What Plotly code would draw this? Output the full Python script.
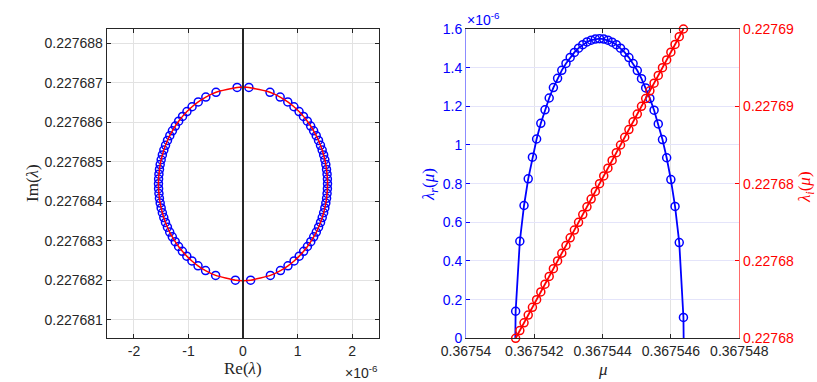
import plotly.graph_objects as go

# ---------------- data ----------------
mu = [0.3675414530, 0.3675415758, 0.3675416986, 0.3675418214, 0.3675419442,
      0.3675420670, 0.3675421898, 0.3675423126, 0.3675424354, 0.3675425582,
      0.3675426810, 0.3675428038, 0.3675429266, 0.3675430494, 0.3675431722,
      0.3675432950, 0.3675434178, 0.3675435406, 0.3675436634, 0.3675437862,
      0.3675439090, 0.3675440318, 0.3675441546, 0.3675442774, 0.3675444002,
      0.3675445230, 0.3675446458, 0.3675447686, 0.3675448914, 0.3675450142,
      0.3675451370, 0.3675452598, 0.3675453826, 0.3675455054, 0.3675456282,
      0.3675457510, 0.3675458738, 0.3675459966, 0.3675461194, 0.3675462422,
      0.3675463650]

# real part (units of 1e-6)
lam_r = [0.140, 0.502, 0.687, 0.825, 0.937, 1.031, 1.112, 1.182, 1.243, 1.297,
         1.345, 1.386, 1.422, 1.453, 1.479, 1.501, 1.519, 1.533, 1.542, 1.548,
         1.550, 1.548, 1.542, 1.532, 1.519, 1.501, 1.479, 1.452, 1.421, 1.385,
         1.343, 1.295, 1.241, 1.180, 1.109, 1.028, 0.934, 0.821, 0.682, 0.495,
         0.108]

lam_i = [0.227682000, 0.227682122, 0.227682244, 0.227682366, 0.227682488,
         0.227682610, 0.227682732, 0.227682854, 0.227682976, 0.227683098,
         0.227683220, 0.227683342, 0.227683464, 0.227683586, 0.227683708,
         0.227683830, 0.227683952, 0.227684074, 0.227684196, 0.227684318,
         0.227684440, 0.227684562, 0.227684684, 0.227684806, 0.227684928,
         0.227685050, 0.227685172, 0.227685294, 0.227685416, 0.227685538,
         0.227685660, 0.227685782, 0.227685904, 0.227686026, 0.227686148,
         0.227686270, 0.227686392, 0.227686514, 0.227686636, 0.227686758,
         0.227686880]

# collision points where the real part vanishes
mu_ends = [0.3675414430, 0.3675463710]
lam_i_ends = [0.227681990, 0.227686890]

# ticks
left_x_ticks = [-2, -1, 0, 1, 2]
left_x_text = ["-2", "-1", "0", "1", "2"]
left_y_ticks = [0.227681, 0.227682, 0.227683, 0.227684, 0.227685, 0.227686, 0.227687, 0.227688]
left_y_text = ["0.227681", "0.227682", "0.227683", "0.227684", "0.227685", "0.227686", "0.227687", "0.227688"]
right_x_ticks = [0.367540, 0.367542, 0.367544, 0.367546, 0.367548]
right_x_text = ["0.36754", "0.367542", "0.367544", "0.367546", "0.367548"]
right_yl_ticks = [0, 0.2, 0.4, 0.6, 0.8, 1.0, 1.2, 1.4, 1.6]
right_yl_text = ["0", "0.2", "0.4", "0.6", "0.8", "1", "1.2", "1.4", "1.6"]
right_yr_text = ["0.22768", "0.22768", "0.22768", "0.22769", "0.22769"]

# ---------------- layout helpers ----------------
W, H = 817, 382
def px(x):
    return x / W
def py(y):
    return 1 - y / H

L_X = [px(106.7), px(379.3)]
R_X = [px(466.0), px(739.3)]
Y_D = [py(338.3), py(29.0)]

BLUE = "#0000ff"
RED = "#ff0000"
AX = "#262626"
GRID = "#e2e2e2"
FAM = "Liberation Sans, Arial, sans-serif"
TFS = 14
TICKFONT = dict(family=FAM, size=TFS, color=AX)
SERIF = "Liberation Serif, Times New Roman, serif"
LFS = 17
MS = 8
MLW = 1.5

fig = go.Figure()

# ---------- left: eigenvalues in the complex plane ----------
ell_x = [0] + lam_r + [0] + [-v for v in ([0] + lam_r + [0])[::-1]]
ell_y = ([lam_i_ends[0]] + lam_i + [lam_i_ends[1]]) + ([lam_i_ends[0]] + lam_i + [lam_i_ends[1]])[::-1]

fig.add_trace(go.Scatter(x=lam_r, y=lam_i, mode="markers", xaxis="x", yaxis="y",
                         marker=dict(symbol="circle-open", size=MS, color=BLUE, line=dict(width=MLW, color=BLUE)),
                         cliponaxis=False, showlegend=False))
fig.add_trace(go.Scatter(x=[-v for v in lam_r], y=lam_i, mode="markers", xaxis="x", yaxis="y",
                         marker=dict(symbol="circle-open", size=MS, color=BLUE, line=dict(width=MLW, color=BLUE)),
                         cliponaxis=False, showlegend=False))
fig.add_trace(go.Scatter(x=ell_x, y=ell_y, mode="lines", xaxis="x", yaxis="y",
                         line=dict(color=RED, width=1.5, shape="spline", smoothing=0.6), showlegend=False))

# ---------- right: real and imaginary parts vs mu ----------
fig.add_trace(go.Scatter(x=[mu_ends[0]] + mu + [mu_ends[1]], y=[0] + lam_r + [0], mode="lines",
                         xaxis="x2", yaxis="y2", line=dict(color=BLUE, width=1.8), showlegend=False))
fig.add_trace(go.Scatter(x=mu, y=lam_r, mode="markers", xaxis="x2", yaxis="y2",
                         marker=dict(symbol="circle-open", size=MS, color=BLUE, line=dict(width=MLW, color=BLUE)),
                         cliponaxis=False, showlegend=False))
fig.add_trace(go.Scatter(x=mu, y=lam_i, mode="lines+markers", xaxis="x2", yaxis="y3",
                         line=dict(color=RED, width=1.8),
                         marker=dict(symbol="circle-open", size=MS, color=RED, line=dict(width=MLW, color=RED)),
                         cliponaxis=False, showlegend=False))

yr_range = [lam_i[0], lam_i[-1]]
yr_ticks = [yr_range[0] + k * (yr_range[1] - yr_range[0]) / 4 for k in range(5)]

common = dict(showline=True, linewidth=1, ticks="inside", ticklen=4, zeroline=False,
              showgrid=True, gridwidth=1, automargin=False)

fig.update_layout(
    width=W, height=H, margin=dict(l=0, r=0, t=0, b=0, autoexpand=False),
    paper_bgcolor="white", plot_bgcolor="white",
    xaxis=dict(domain=L_X, anchor="y", range=[-2.5, 2.5], tickvals=left_x_ticks, ticktext=left_x_text,
               linecolor=AX, tickcolor=AX, gridcolor=GRID, mirror="ticks", tickfont=TICKFONT, **common),
    yaxis=dict(domain=Y_D, anchor="x", range=[0.22768053, 0.22768836], tickvals=left_y_ticks, ticktext=left_y_text,
               linecolor=AX, tickcolor=AX, gridcolor=GRID, mirror="ticks", tickfont=TICKFONT, **common),
    xaxis2=dict(domain=R_X, anchor="y2", range=[0.367540, 0.367548], tickvals=right_x_ticks, ticktext=right_x_text,
                linecolor=AX, tickcolor=AX, gridcolor=GRID, mirror="ticks", tickfont=TICKFONT, **common),
    yaxis2=dict(domain=Y_D, anchor="x2", range=[0, 1.6], tickvals=right_yl_ticks, ticktext=right_yl_text,
                linecolor="#8c8cff", tickcolor=BLUE, gridcolor="#e4e4fa",
                tickfont=dict(family=FAM, size=TFS, color=BLUE), **common),
    yaxis3=dict(overlaying="y2", anchor="x2", side="right", range=yr_range, tickvals=yr_ticks,
                ticktext=right_yr_text, showline=True, linewidth=1, linecolor="#ff6a6a", ticks="inside",
                ticklen=4, tickcolor=RED, showgrid=False, zeroline=False, automargin=False,
                tickfont=dict(family=FAM, size=TFS, color=RED)),
    shapes=[dict(type="line", xref="x", yref="y domain", x0=0, x1=0, y0=0, y1=1,
                 line=dict(color=AX, width=2))],
    annotations=[
        dict(text="Re(<i>λ</i>)", x=px(243), y=py(368), xref="paper", yref="paper", showarrow=False,
             xanchor="center", yanchor="middle", font=dict(family=SERIF, size=LFS, color=AX)),
        dict(text="Im(<i>λ</i>)", x=px(32), y=py(183), xref="paper", yref="paper", showarrow=False,
             textangle=-90, xanchor="center", yanchor="middle", font=dict(family=SERIF, size=LFS, color=AX)),
        dict(text="×10<sup>-6</sup>", x=px(380), y=py(372), xref="paper", yref="paper", showarrow=False,
             xanchor="right", yanchor="middle", font=dict(family=FAM, size=TFS, color=AX)),
        dict(text="×10<sup>-6</sup>", x=px(465), y=py(19), xref="paper", yref="paper", showarrow=False,
             xanchor="left", yanchor="middle", font=dict(family=FAM, size=TFS, color=BLUE)),
        dict(text="<i>μ</i>", x=px(603), y=py(369), xref="paper", yref="paper", showarrow=False,
             xanchor="center", yanchor="middle", font=dict(family=SERIF, size=LFS, color=AX)),
        dict(text="<i>λ</i><sub><i>r</i></sub>(<i>μ</i>)", x=px(430), y=py(185), xref="paper", yref="paper",
             showarrow=False, textangle=-90, xanchor="center", yanchor="middle",
             font=dict(family=SERIF, size=LFS, color=BLUE)),
        dict(text="<i>λ</i><sub><i>i</i></sub>(<i>μ</i>)", x=px(806), y=py(187), xref="paper", yref="paper",
             showarrow=False, textangle=-90, xanchor="center", yanchor="middle",
             font=dict(family=SERIF, size=LFS, color=RED)),
    ],
)

fig.write_html("out.html", config={"displayModeBar": False},
               post_script="document.body.style.margin='0px';document.body.style.overflow='hidden';")
